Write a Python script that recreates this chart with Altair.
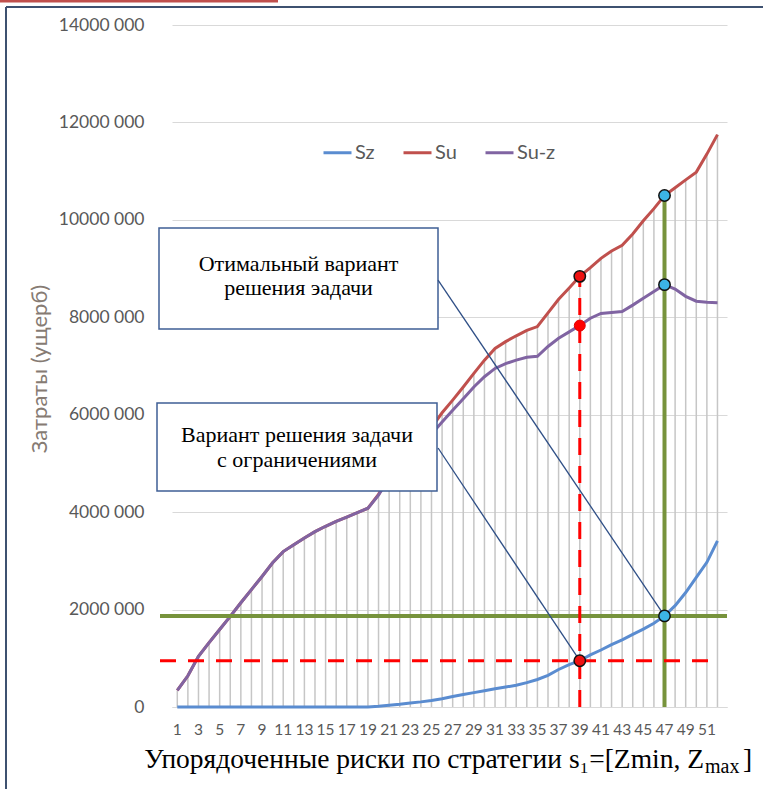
import altair as alt
import pandas as pd

# ---------------- data ----------------
x_idx = list(range(1, 53))
series_names = ["Sz", "Su", "Su-z"]
series_colors = ["#5a8cd0", "#c0504d", "#8064a2"]

sz = [0, 0, 0, 0, 0, 0, 0, 0, 0, 0, 0, 0, 0, 0, 0, 0, 0, 0, 0,
      15000, 35000, 55000, 80000, 105000, 135000, 170000, 215000, 255000, 295000,
      335000, 375000, 410000, 445000, 500000, 565000, 650000, 770000, 870000, 950000,
      1070000, 1170000, 1280000, 1380000, 1490000, 1600000, 1720000, 1870000,
      2080000, 2350000, 2660000, 2970000, 3410000]

suz = [340000, 640000, 1040000, 1320000, 1590000, 1860000, 2140000, 2410000, 2680000,
       2960000, 3190000, 3330000, 3470000, 3600000, 3710000, 3810000, 3900000, 3990000,
       4080000, 4350000, 4700000, 4950000, 5200000, 5400000, 5600000, 5850000, 6090000,
       6330000, 6570000, 6780000, 6950000, 7050000, 7120000, 7180000, 7200000, 7400000,
       7570000, 7700000, 7830000, 7980000, 8080000, 8100000, 8120000, 8250000, 8390000,
       8530000, 8670000, 8580000, 8430000, 8330000, 8310000, 8300000]

su = [340000, 640000, 1040000, 1320000, 1590000, 1860000, 2140000, 2410000, 2680000,
      2960000, 3190000, 3330000, 3470000, 3600000, 3710000, 3810000, 3900000, 3990000,
      4080000, 4365000, 4735000, 5005000, 5280000, 5505000, 5735000, 6040000, 6300000,
      6570000, 6850000, 7120000, 7360000, 7500000, 7620000, 7730000, 7810000, 8090000,
      8370000, 8600000, 8840000, 9020000, 9210000, 9360000, 9480000, 9710000, 9980000,
      10230000, 10500000, 10660000, 10820000, 10980000, 11350000, 11750000]

y_ticks = [0, 2000000, 4000000, 6000000, 8000000, 10000000, 12000000, 14000000]
x_ticks = list(range(1, 52, 2))

opt_idx = 47      # optimal variant (blue markers)
lim_idx = 39      # constrained variant (red markers)

y_title = "Затраты (ущерб)"
box1_lines = ["Отимальный вариант", "решения эадачи"]
box2_lines = ["Вариант решения задачи", "с ограничениями"]
x_title_main = "Упорядоченные риски по стратегии s₁=[Zmin, Z"
x_title_sub = "max"
x_title_end = "]"

# ---------------- tables ----------------
wide = pd.DataFrame({"x": x_idx, "Sz": sz, "Su": su, "Su-z": suz})
long = wide.melt("x", var_name="series", value_name="value")
one = pd.DataFrame({"k": [0]})
xlab = pd.DataFrame({"t": x_ticks, "lab": [str(t) for t in x_ticks]})

pts_opt = pd.DataFrame({"x": [opt_idx] * 3,
                        "v": [su[opt_idx - 1], suz[opt_idx - 1], sz[opt_idx - 1]]})
pts_lim = pd.DataFrame({"x": [lim_idx, lim_idx], "v": [su[lim_idx - 1], sz[lim_idx - 1]]})
pts_lim2 = pd.DataFrame({"x": [lim_idx], "v": [suz[lim_idx - 1]]})

W, H = 555, 682
xscale = alt.Scale(domain=[0.5, 52.9], nice=False, zero=False)
yscale = alt.Scale(domain=[0, 14000000], nice=False)

AX_FONT = "Lato"
GRAY = "#595959"

x_axis = alt.Axis(values=x_ticks, title=None, grid=False, ticks=False, domain=True,
                  domainColor="#d9d9d9", domainWidth=1, labels=False)
y_axis = alt.Axis(values=y_ticks, title=None, grid=True, gridColor="#d9d9d9", gridWidth=1,
                  ticks=False, domain=False, labelFont=AX_FONT, labelFontSize=17.5,
                  labelColor=GRAY, labelPadding=28, labelOverlap=False,
                  labelExpr="datum.value == 0 ? '0' : format(datum.value / 1000, 'd') + ' 000'")

legend = alt.Legend(orient="none", legendX=150, legendY=112, direction="horizontal",
                    title=None, symbolType="stroke", symbolSize=784, symbolStrokeWidth=3,
                    labelFont=AX_FONT, labelFontSize=20, labelColor=GRAY,
                    columnPadding=22, labelOffset=2)
color_enc = alt.Color("series:N", scale=alt.Scale(domain=series_names, range=series_colors),
                      legend=legend)

X = lambda f: alt.X(f, scale=xscale, axis=x_axis)
Y = lambda f: alt.Y(f, scale=yscale, axis=y_axis)

# drop lines
drops = alt.Chart(wide).mark_rule(color="#c6c6c6", strokeWidth=1.5).encode(
    x=X("x:Q"), y=Y("Su:Q"), y2=alt.datum(0))

# x tick labels (every other category, as in the source)
xlabels = alt.Chart(xlab).mark_text(font=AX_FONT, fontSize=15.5, color=GRAY,
                                    baseline="middle", align="center").encode(
    x=X("t:Q"), y=alt.value(H + 23), text="lab:N")

def line_layer(name):
    return alt.Chart(long).transform_filter(alt.datum.series == name).mark_line(
        strokeWidth=3).encode(x=X("x:Q"), y=Y("value:Q"), color=color_enc)

lines = [line_layer(n) for n in series_names]

green = "#77933c"
g_h = alt.Chart(one).mark_rule(color=green, strokeWidth=4).encode(
    x=alt.value(-12), x2=alt.value(555), y=alt.datum(sz[opt_idx - 1]))
g_v = alt.Chart(one).mark_rule(color=green, strokeWidth=4).encode(
    x=alt.datum(opt_idx), y=alt.datum(0), y2=alt.datum(su[opt_idx - 1]))
r_h = alt.Chart(one).mark_rule(color="#ff0000", strokeWidth=3, strokeDash=[16, 12]).encode(
    x=alt.value(-12), x2=alt.value(545), y=alt.datum(sz[lim_idx - 1]))
r_v = alt.Chart(one).mark_rule(color="#ff0000", strokeWidth=3, strokeDash=[17, 11]).encode(
    x=alt.datum(lim_idx), y=alt.datum(0), y2=alt.datum(su[lim_idx - 1]))

BOX_STROKE = "#3f5f95"
box1 = alt.Chart(one).mark_rect(fill="white", stroke=BOX_STROKE, strokeWidth=1.5).encode(
    x=alt.value(-13), x2=alt.value(266), y=alt.value(203), y2=alt.value(304))
box2 = alt.Chart(one).mark_rect(fill="white", stroke=BOX_STROKE, strokeWidth=1.5).encode(
    x=alt.value(-15), x2=alt.value(265), y=alt.value(378), y2=alt.value(466))

def txt(s, x, y, size=22, align="center", font="Liberation Serif", color="black", angle=0,
        baseline="alphabetic"):
    kw = dict(font=font, fontSize=size, align=align, baseline=baseline, color=color)
    if angle:
        kw["angle"] = angle
    return alt.Chart(one).mark_text(**kw).encode(
        x=alt.value(x), y=alt.value(y), text=alt.value(s))

texts = [
    txt(box1_lines[0], 126.5, 246), txt(box1_lines[1], 126.5, 270),
    txt(box2_lines[0], 125, 417), txt(box2_lines[1], 125, 442),
    txt(x_title_main, 532, 743, size=27.5, align="right"),
    txt(x_title_sub, 533, 748, size=20, align="left"),
    txt(x_title_end, 571, 743, size=27.5, align="left"),
    txt(y_title, -132, 344, size=22, font=AX_FONT, color="#867b73", angle=270,
        baseline="middle"),
]

# connectors from box edges to the markers (box edge anchors in data units)
CONN = "#2f4f86"
c1 = alt.Chart(one).mark_rule(color=CONN, strokeWidth=1.3).encode(
    x=alt.datum(25.62), y=alt.datum(8765000),
    x2=alt.datum(opt_idx), y2=alt.datum(sz[opt_idx - 1]))
c2 = alt.Chart(one).mark_rule(color=CONN, strokeWidth=1.3).encode(
    x=alt.datum(25.62), y=alt.datum(5317000),
    x2=alt.datum(lim_idx), y2=alt.datum(sz[lim_idx - 1]))

def dots(df, fill, stroke, size, sw):
    return alt.Chart(df).mark_point(filled=True, shape="circle", size=size, fill=fill,
                                    stroke=stroke, strokeWidth=sw, opacity=1).encode(
        x=X("x:Q"), y=Y("v:Q"))

dots_opt = dots(pts_opt, "#3cb4e6", "#111111", 130, 1.5)
dots_lim = dots(pts_lim, "#ee1111", "#111111", 130, 1.5)
dots_lim2 = dots(pts_lim2, "#ff0000", "#e00000", 120, 1)

# frame decorations
frame_top = alt.Chart(one).mark_rule(color="#3e5170", strokeWidth=2).encode(
    x=alt.value(-166), x2=alt.value(591), y=alt.value(-18))
frame_left = alt.Chart(one).mark_rule(color="#3e5170", strokeWidth=2).encode(
    x=alt.value(-166), y=alt.value(-18), y2=alt.value(764))
red_bar = alt.Chart(one).mark_rule(color="#c0504d", strokeWidth=3).encode(
    x=alt.value(-172), x2=alt.value(106), y=alt.value(-24))

chart = alt.layer(
    drops, xlabels, *lines, g_h, g_v, r_h, r_v, box1, box2, c1, c2, *texts,
    dots_lim2, dots_lim, dots_opt, frame_top, frame_left, red_bar,
).properties(
    width=W, height=H,
    padding={"left": 172, "top": 25, "right": 36, "bottom": 82},
    autosize=alt.AutoSizeParams(type="none"),
    background="white",
).configure_view(stroke=None)

chart.save("out.html", embed_options={"renderer": "svg", "actions": False})
